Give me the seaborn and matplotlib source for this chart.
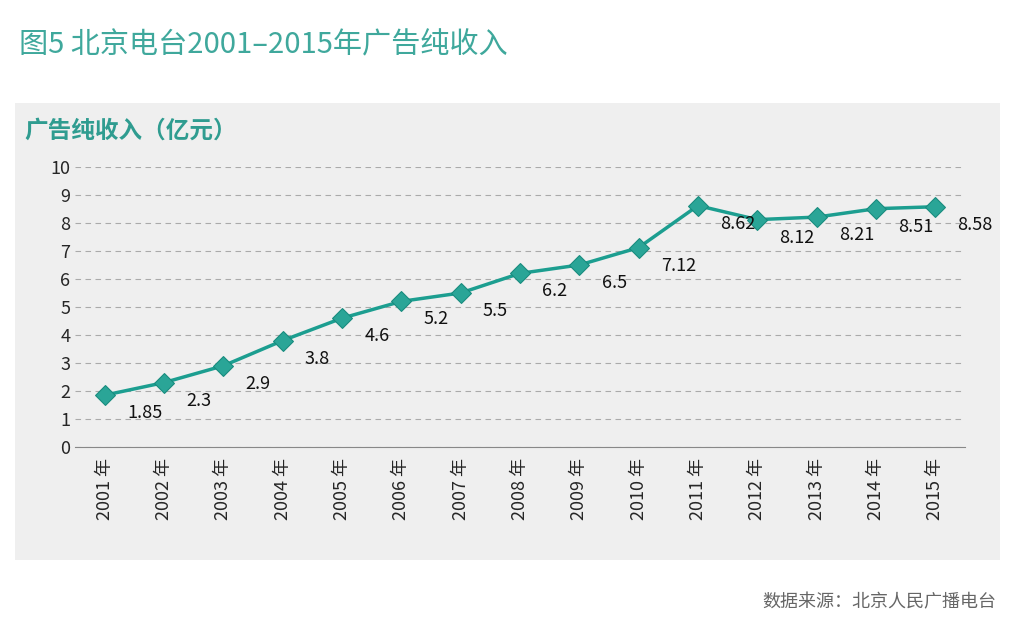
import matplotlib.pyplot as plt
import seaborn as sns
import pandas as pd
from matplotlib.patches import Rectangle

years = [str(y) for y in range(2001, 2016)]
year_labels = [y + " 年" for y in years]
income = [1.85, 2.3, 2.9, 3.8, 4.6, 5.2, 5.5, 6.2, 6.5, 7.12, 8.62, 8.12, 8.21, 8.51, 8.58]
income_text = ["1.85", "2.3", "2.9", "3.8", "4.6", "5.2", "5.5", "6.2", "6.5", "7.12", "8.62", "8.12", "8.21", "8.51", "8.58"]

sns.set_style("white")
plt.rcParams['font.family'] = ['Noto Sans CJK SC', 'DejaVu Sans']

teal = "#1c9e90"
df = pd.DataFrame({"x": range(len(years)), "y": income})

fig = plt.figure(figsize=(10.32, 6.24), dpi=100)
# gray panel behind the chart
bg = fig.add_axes([0, 0, 1, 1], zorder=-5)
bg.axis("off")
bg.add_patch(Rectangle((0.0145, 0.1026), 0.9545, 0.732, facecolor="#efefef", edgecolor="none"))
bg.set_xlim(0, 1)
bg.set_ylim(0, 1)

ax = fig.add_axes([0.0727, 0.2837, 0.8623, 0.4487])
ax.set_facecolor("none")

sns.lineplot(data=df, x="x", y="y", ax=ax, color=teal, linewidth=2.5, marker="D",
             markersize=10, markerfacecolor="#2aa597", markeredgecolor="#178a7d")

for i, (v, t) in enumerate(zip(income, income_text)):
    ax.annotate(t, (i, v), xytext=(16, -13), textcoords="offset points",
                fontsize=13, ha="left", va="center", color="#111111")

ax.set_xlim(-0.5, len(years) - 0.5)
ax.set_ylim(0, 10)
ax.set_yticks(range(0, 11))
ax.yaxis.grid(True, color="#aaaaaa", linestyle=(0, (5, 4)), linewidth=0.8)
ax.set_axisbelow(True)
ax.set_xticks(range(len(years)))
ax.set_xticklabels(year_labels, rotation=90, fontsize=13)
ax.set_xticks([i - 0.5 for i in range(len(years) + 1)], minor=True)
ax.tick_params(axis="x", which="major", length=0, pad=8)
ax.tick_params(axis="x", which="minor", length=6, color="#888888")
ax.tick_params(axis="y", labelsize=13, length=0)
for s in ["top", "right", "left"]:
    ax.spines[s].set_visible(False)
ax.spines["bottom"].set_color("#888888")
ax.set_xlabel("")
ax.set_ylabel("")

fig.text(0.018, 0.928, "图5 北京电台2001–2015年广告纯收入", fontsize=21, color="#3fa89c", va="center")
fig.text(0.024, 0.79, "广告纯收入（亿元）", fontsize=17, fontweight="bold", color="#2f9c90", va="center")
fig.text(0.965, 0.035, "数据来源：北京人民广播电台", fontsize=13, color="#666666", ha="right", va="center")

fig.savefig("out.png", dpi=100)
